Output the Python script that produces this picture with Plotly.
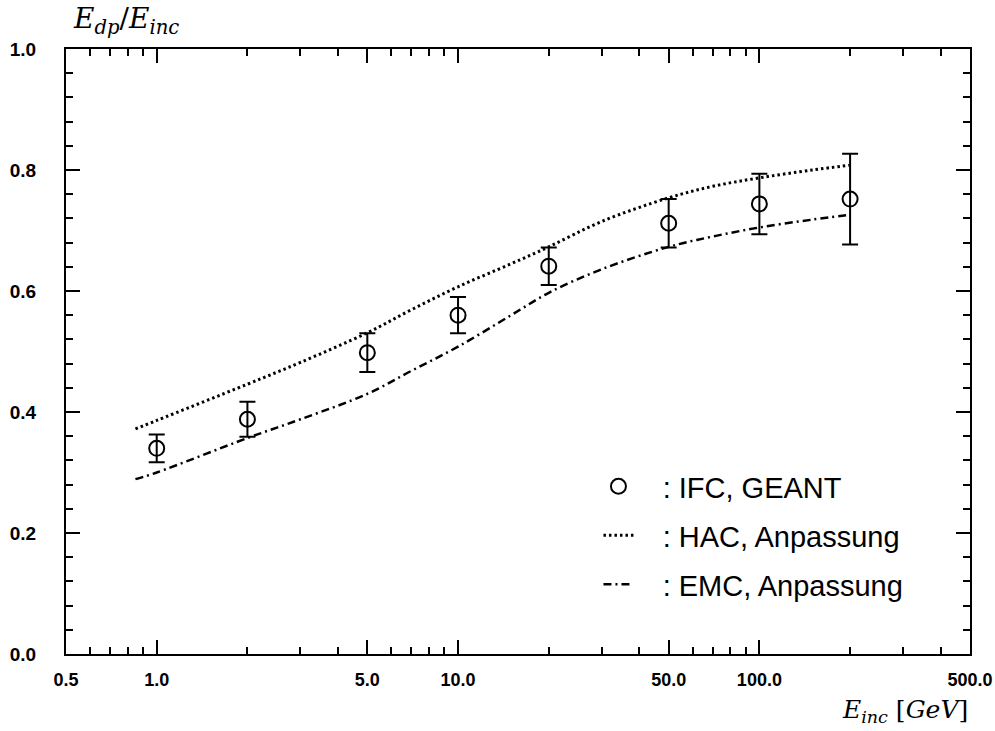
import plotly.graph_objects as go

# Data points (IFC, GEANT)
energy = [1, 2, 5, 10, 20, 50, 100, 200]
ratio = [0.340, 0.388, 0.498, 0.560, 0.641, 0.712, 0.744, 0.752]
ratio_err = [0.023, 0.029, 0.032, 0.030, 0.031, 0.040, 0.050, 0.075]

# Fit curves
fit_energy = [0.85, 1, 2, 3, 5, 7, 10, 15, 20, 30, 50, 70, 100, 150, 200]
hac_fit = [0.372, 0.386, 0.446, 0.482, 0.531, 0.569, 0.607, 0.645, 0.673,
           0.715, 0.754, 0.773, 0.787, 0.800, 0.808]
emc_fit = [0.289, 0.300, 0.357, 0.388, 0.430, 0.468, 0.508, 0.560, 0.597,
           0.636, 0.673, 0.690, 0.705, 0.718, 0.726]

x_ticks = [0.5, 1, 5, 10, 50, 100, 500]
x_ticktext = ["0.5", "1.0", "5.0", "10.0", "50.0", "100.0", "500.0"]
x_minor = [0.6, 0.7, 0.8, 0.9, 2, 3, 4, 6, 7, 8, 9, 20, 30, 40,
           60, 70, 80, 90, 200, 300, 400]
y_ticks = [0.0, 0.2, 0.4, 0.6, 0.8, 1.0]
y_ticktext = ["0.0", "0.2", "0.4", "0.6", "0.8", "1.0"]

NB = "\u00a0"
legend_font = dict(family="Liberation Sans", size=29, color="black")

fig = go.Figure()
fig.add_trace(go.Scatter(
    x=fit_energy, y=hac_fit, mode="lines", line_shape="spline",
    line=dict(color="black", width=3, dash="2.5px,3px"),
    name=NB * 3 + ":" + NB + "HAC, Anpassung", legend="legend2"))
fig.add_trace(go.Scatter(
    x=fit_energy, y=emc_fit, mode="lines", line_shape="spline",
    line=dict(color="black", width=2.5, dash="8px,4px,2px,4px"),
    name=NB * 3 + ":" + NB + "EMC, Anpassung", legend="legend3"))
fig.add_trace(go.Scatter(
    x=energy, y=ratio, mode="markers",
    marker=dict(symbol="circle-open", size=15, color="black", line=dict(width=2, color="black")),
    error_y=dict(type="data", array=ratio_err, color="black", thickness=2, width=8),
    name=NB * 3 + ":" + NB + "IFC, GEANT", legend="legend"))

common_leg = dict(font=legend_font, bgcolor="rgba(0,0,0,0)", xanchor="left",
                  yanchor="middle", x=0.589, itemwidth=30)

fig.update_layout(
    width=995, height=731,
    margin=dict(l=66, r=25, t=49, b=77),
    paper_bgcolor="white", plot_bgcolor="white",
    showlegend=True,
    legend=dict(y=0.277, **common_leg),
    legend2=dict(y=0.196, **common_leg),
    legend3=dict(y=0.115, **common_leg),
    xaxis=dict(
        type="log", range=[-0.30104, 2.69898],
        tickvals=x_ticks, ticktext=x_ticktext,
        ticks="inside", ticklen=14, tickwidth=2, tickcolor="black",
        minor=dict(tickvals=x_minor, ticks="inside", ticklen=7, tickwidth=2, tickcolor="black"),
        showline=True, linewidth=2, linecolor="black", mirror="ticks",
        showgrid=False, zeroline=False, automargin=False,
        tickfont=dict(family="Liberation Sans", size=18, color="black", weight="bold"),
        ticklabelstandoff=8, ticklabeloverflow="allow",
    ),
    yaxis=dict(
        range=[0, 1.0],
        tickvals=y_ticks, ticktext=y_ticktext,
        ticks="inside", ticklen=14, tickwidth=2, tickcolor="black",
        minor=dict(dtick=0.04, ticks="inside", ticklen=7, tickwidth=2, tickcolor="black"),
        showline=True, linewidth=2, linecolor="black", mirror="ticks",
        showgrid=False, zeroline=False, automargin=False,
        tickfont=dict(family="Liberation Sans", size=19, color="black", weight="bold"),
        ticklabelstandoff=24,
    ),
    annotations=[
        dict(xref="paper", yref="paper", x=0.006, y=1.0, xanchor="left", yanchor="bottom",
             yshift=8, showarrow=False,
             text="<i>E</i><sub><i>dp</i></sub>/<i>E</i><sub><i>inc</i></sub>",
             font=dict(family="DejaVu Serif", size=28, color="black")),
        dict(xref="paper", yref="paper", x=1.0, y=-0.094, xanchor="right", yanchor="middle",
             showarrow=False,
             text="<i>E</i><sub><i>inc</i></sub> [<i>GeV</i>]",
             font=dict(family="DejaVu Serif", size=25, color="black")),
    ],
)

fig.write_html("out.html")
